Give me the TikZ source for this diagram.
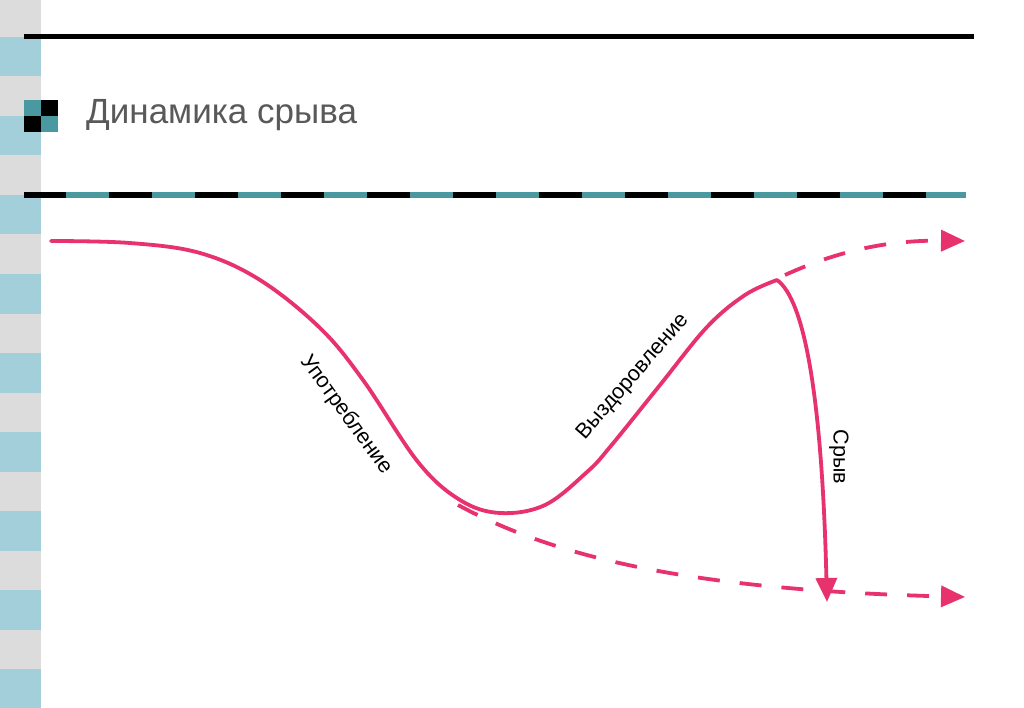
\documentclass[tikz,border=0pt]{standalone}
\usepackage{fontspec}
\setmainfont{Liberation Sans}
\usetikzlibrary{arrows.meta}
\definecolor{pinkc}{HTML}{E8326E}
\definecolor{tealc}{HTML}{4A99A0}
\definecolor{stripeblue}{HTML}{A3CFDB}
\definecolor{stripegray}{HTML}{DCDCDC}
\definecolor{titlegray}{HTML}{595959}
\tikzset{
  curveline/.style={draw=pinkc, line width=3.8pt, line cap=round, line join=round},
  dashline/.style={draw=pinkc, line width=3.8pt, dash pattern=on 22pt off 20pt},
  tip/.style={-{Triangle[length=24pt,width=21pt]}},
  lbl/.style={font=\fontsize{21.5}{24}\selectfont, text=black, inner sep=0pt}
}
\begin{document}
\begin{tikzpicture}[x=1pt,y=-1pt]
\useasboundingbox (0,0) rectangle (1024,708);
\fill[white] (0,0) rectangle (1024,708);
% side stripe
\fill[stripegray] (0,0) rectangle (41,708);
\foreach \i in {0,...,8} {
  \fill[stripeblue] (0,{37+79*\i}) rectangle (41,{76.5+79*\i});
}
% top line
\draw[black, line width=5pt] (24,37) -- (974,37);
% title icon
\fill[tealc] (24,100.5) rectangle (41,116.5);
\fill[black] (41,100.5) rectangle (58,116.5);
\fill[black] (24,116.5) rectangle (41,132.5);
\fill[tealc] (41,116.5) rectangle (58,132.5);
\node[anchor=base west, inner sep=0pt, text=titlegray, font=\fontsize{35}{40}\selectfont] (title) at (86,124) {Динамика срыва};
% dashed separator
\draw[black, line width=5.5pt] (24,195) -- (966,195);
\draw[tealc, line width=5.5pt, dash pattern=on 43pt off 43pt] (66,195) -- (966,195);
% coordinates
\coordinate (start) at (51,241);
\coordinate (peak) at (777,280);
\coordinate (branch) at (458,505);
\coordinate (topend) at (965,241);
\coordinate (botend) at (965,597);
\coordinate (fallend) at (827,602);
% main curve
\draw[curveline] plot[smooth, tension=0.6] coordinates {(start) (130,243) (200,253) (260,280) (320,328) (363,380) (418,462) (460,500) (500,513) (545,505) (587,472) (610,447) (660,385) (707,327) (745,295) (peak)};
% relapse
\draw[curveline, tip] (peak) .. controls (805,300) and (822,400) .. (fallend);
% dashed continuations
\draw[dashline, tip] (785,275) .. controls (840,250) and (890,240) .. (topend);
\draw[dashline, tip] (branch) .. controls (560,560) and (700,590) .. (botend);
% labels
\node[lbl, rotate=-54] (use) at (346,415) {Употребление};
\node[lbl, rotate=49] (rec) at (633,377) {Выздоровление};
\node[lbl, rotate=-90] (rel) at (839,457) {Срыв};
\end{tikzpicture}
\end{document}
